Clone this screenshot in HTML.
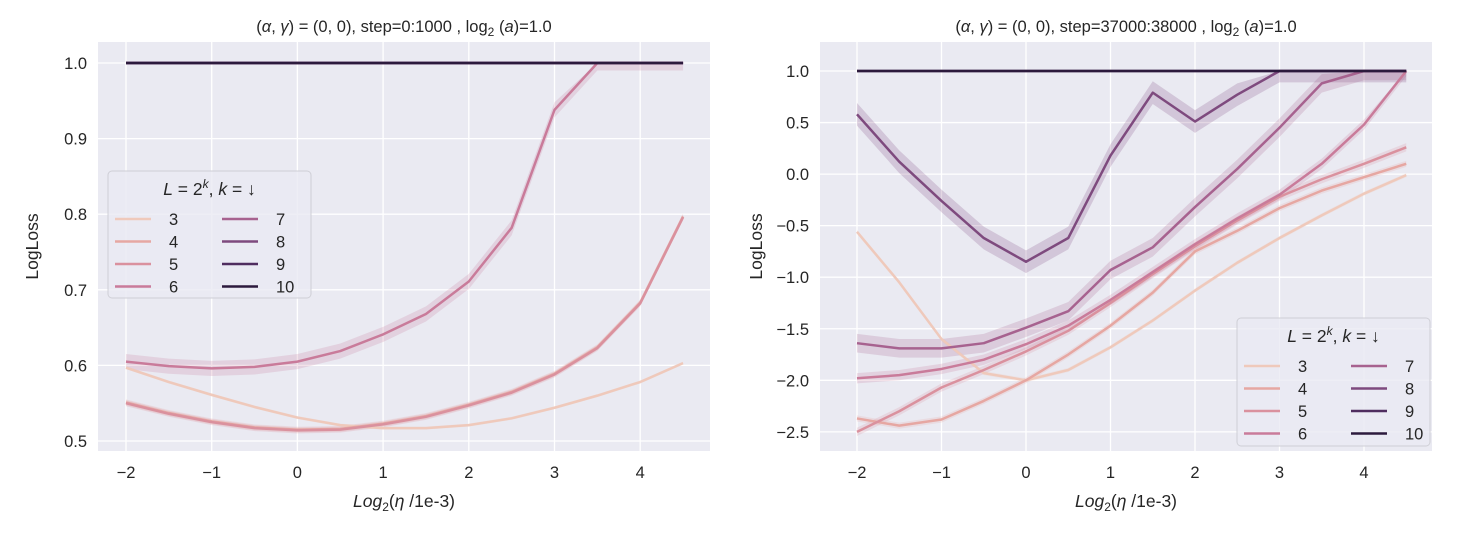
<!DOCTYPE html>
<html><head><meta charset="utf-8"><style>
body{margin:0;background:#fff;}
svg text{font-family:"Liberation Sans","DejaVu Sans",sans-serif;fill:#262626;}
</style></head><body>
<svg id="fig" width="1470" height="529" xmlns="http://www.w3.org/2000/svg"></svg>
<script>
const xs=[-2,-1.5,-1,-0.5,0,0.5,1,1.5,2,2.5,3,3.5,4,4.5];
const ks=[3,4,5,6,7,8,9,10];
const colors=['#efc9bb','#e6a7a2','#da919e','#c97b9a','#a7628f','#7e4a7e','#4f2d5f','#2c1a3d'];
const xTicks=[-2,-1,0,1,2,3,4];
const leftYTicks=[0.5,0.6,0.7,0.8,0.9,1.0];
const rightYTicks=[-2.5,-2.0,-1.5,-1.0,-0.5,0.0,0.5,1.0];
const L3=[0.597,0.578,0.561,0.545,0.531,0.521,0.517,0.517,0.521,0.530,0.544,0.560,0.578,0.603];
const L4=[0.551,0.537,0.526,0.518,0.515,0.516,0.523,0.533,0.548,0.565,0.589,0.624,0.683,0.797];
const L5=[0.550,0.536,0.525,0.517,0.514,0.515,0.522,0.532,0.547,0.564,0.588,0.623,0.682,0.796];
const L6=[0.605,0.599,0.596,0.598,0.605,0.619,0.641,0.668,0.711,0.782,0.938,1.0,1.0,1.0];
const L7=[1,1,1,1,1,1,1,1,1,1,1,1,1,1];
const L8=[1,1,1,1,1,1,1,1,1,1,1,1,1,1];
const L9=[1,1,1,1,1,1,1,1,1,1,1,1,1,1];
const L10=[1,1,1,1,1,1,1,1,1,1,1,1,1,1];
const R3=[-0.56,-1.05,-1.6,-1.93,-2.0,-1.9,-1.68,-1.42,-1.13,-0.86,-0.62,-0.40,-0.19,-0.01];
const R4=[-2.37,-2.44,-2.38,-2.2,-2.0,-1.75,-1.47,-1.15,-0.75,-0.55,-0.33,-0.16,-0.03,0.10];
const R5=[-2.5,-2.3,-2.07,-1.9,-1.72,-1.52,-1.25,-0.97,-0.7,-0.45,-0.22,-0.05,0.1,0.26];
const R6=[-1.98,-1.95,-1.89,-1.8,-1.65,-1.47,-1.22,-0.95,-0.68,-0.43,-0.2,0.1,0.48,1.0];
const R7=[-1.64,-1.69,-1.69,-1.64,-1.49,-1.33,-0.93,-0.71,-0.32,0.05,0.45,0.88,1.0,1.0];
const R8=[0.58,0.12,-0.26,-0.62,-0.85,-0.62,0.18,0.79,0.51,0.77,1.0,1.0,1.0,1.0];
const R9=[1,1,1,1,1,1,1,1,1,1,1,1,1,1];
const R10=[1,1,1,1,1,1,1,1,1,1,1,1,1,1];
const leftSeries=[L3,L4,L5,L6,L7,L8,L9,L10];
const rightSeries=[R3,R4,R5,R6,R7,R8,R9,R10];
const leftErr=[0.002,0.004,0.004,0.01,0,0,0,0];
const rightErr=[0.02,0.03,0.04,0.05,0.09,0.11,0,0];
const NS='http://www.w3.org/2000/svg';
const svg=document.getElementById('fig');
function mk(tag,attrs,parent){const e=document.createElementNS(NS,tag);for(const k in attrs)e.setAttribute(k,attrs[k]);(parent||svg).appendChild(e);return e;}
function panel(p){
  const g=mk('g',{});
  
  
  const sx=v=>p.x0+(v-(-2))*p.kx;
  const sy=v=>p.y0-(v-p.yref)*p.ky;
  const bg=mk('rect',{x:p.l,y:p.t,width:p.r-p.l,height:p.b-p.t,fill:'#eaeaf2'},g);
  
  xTicks.forEach(v=>{mk('line',{x1:sx(v),x2:sx(v),y1:p.t,y2:p.b,stroke:'#fff','stroke-width':1.3},g);
    const t=mk('text',{x:sx(v),y:p.b+27,'text-anchor':'middle','font-size':16.5},g);t.textContent=v<0?'\u2212'+(-v):v;
    });
  p.yt.forEach(v=>{mk('line',{x1:p.l,x2:p.r,y1:sy(v),y2:sy(v),stroke:'#fff','stroke-width':1.3},g);
    const t=mk('text',{x:p.l-11,y:sy(v)+6,'text-anchor':'end','font-size':16.5},g);t.textContent=v.toFixed(1).replace('-','\u2212');
    });
  p.series.forEach((s,i)=>{
    if(p.err[i]>0){
      const up=s.map((v,j)=>sx(xs[j])+','+sy(Math.min(v+p.err[i],p.cap))).join(' ');
      const dn=s.map((v,j)=>sx(xs[j])+','+sy(v-p.err[i])).reverse().join(' ');
      const band=mk('polygon',{points:up+' '+dn,fill:colors[i],opacity:0.22},g);
      
    }
  });
  p.series.forEach((s,i)=>{
    const pl=mk('polyline',{points:s.map((v,j)=>sx(xs[j])+','+sy(v)).join(' '),fill:'none',stroke:colors[i],'stroke-width':2.5,'stroke-linejoin':'round'},g);
    
  });
  const ti=mk('text',{x:(p.l+p.r)/2,y:p.t-10,'text-anchor':'middle','font-size':16.5},g);
  ti.innerHTML=p.title;
  const xl=mk('text',{x:(p.l+p.r)/2,y:p.b+56,'text-anchor':'middle','font-size':17.5},g);
  xl.innerHTML='<tspan font-style="italic">Log</tspan><tspan font-size="12" dy="4">2</tspan><tspan dy="-4">(</tspan><tspan font-style="italic">η</tspan> /1e-3)';
  
  const yl=mk('text',{x:0,y:0,'text-anchor':'middle','font-size':17.5,transform:`translate(${p.l-p.ylOff},${(p.t+p.b)/2}) rotate(-90)`},g);
  yl.textContent='LogLoss';
  const lg=mk('g',{},g);
  const L=p.leg;
  mk('rect',{x:L.x,y:L.y,width:L.w,height:L.h,rx:4,fill:'#eaeaf2','fill-opacity':0.8,stroke:'#cfcfd6'},lg);
  const lt=mk('text',{x:L.x+L.w/2,y:L.y+24,'text-anchor':'middle','font-size':17.5},lg);
  lt.innerHTML='<tspan font-style="italic">L</tspan> = 2<tspan font-size="12" dy="-7" font-style="italic">k</tspan><tspan dy="7">, </tspan><tspan font-style="italic">k</tspan> = ↓';
  ks.forEach((k,i)=>{const col=Math.floor(i/4),row=i%4;const lx=L.x+7+col*107,ly=L.y+48+row*22.5;
    mk('line',{x1:lx,x2:lx+36,y1:ly,y2:ly,stroke:colors[i],'stroke-width':2.6},lg);
    const t=mk('text',{x:lx+54,y:ly+6,'font-size':16.5},lg);t.textContent=k;
    });
}
panel({name:'left-panel',l:98,r:710,t:42,b:451,x0:126,kx:85.7,y0:63,yref:1.0,ky:756,yt:leftYTicks,series:leftSeries,err:leftErr,cap:1.0,ylOff:60,
  title:'(<tspan font-style="italic">α</tspan>, <tspan font-style="italic">γ</tspan>) = (0, 0), step=0:1000 , log<tspan font-size="12" dy="4">2</tspan><tspan dy="-4"> (</tspan><tspan font-style="italic">a</tspan>)=1.0',
  leg:{x:108,y:171,w:203,h:127}});
panel({name:'right-panel',l:820,r:1432,t:42,b:451,x0:857,kx:84.5,y0:71,yref:1.0,ky:103.1,yt:rightYTicks,series:rightSeries,err:rightErr,cap:1.0,ylOff:58,
  title:'(<tspan font-style="italic">α</tspan>, <tspan font-style="italic">γ</tspan>) = (0, 0), step=37000:38000 , log<tspan font-size="12" dy="4">2</tspan><tspan dy="-4"> (</tspan><tspan font-style="italic">a</tspan>)=1.0',
  leg:{x:1237,y:318,w:193,h:128}});
</script>
</body></html>
